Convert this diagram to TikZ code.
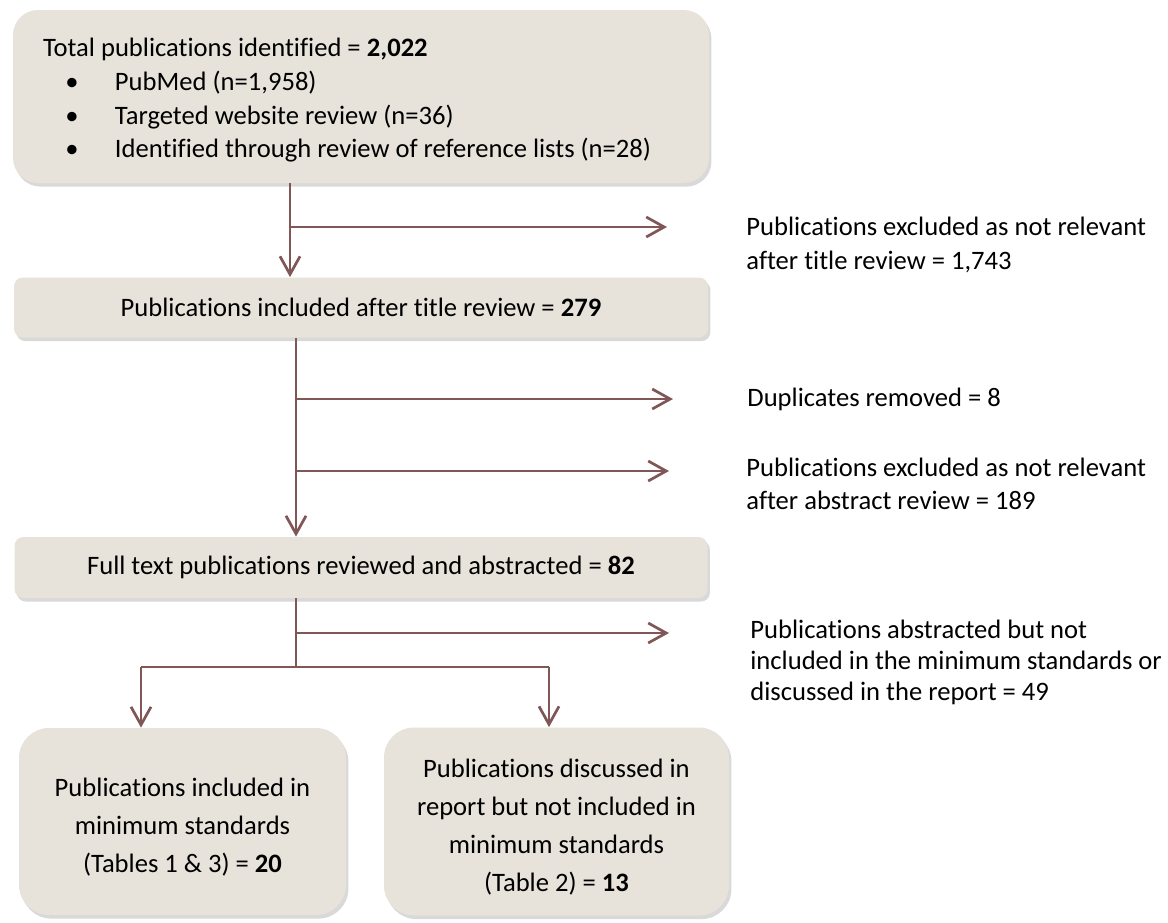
\documentclass[tikz,border=0pt]{standalone}
\usepackage{fontspec}
\setmainfont{Carlito}[Ligatures=NoCommon]
\usetikzlibrary{positioning, arrows.meta, shadows}

\definecolor{boxfill}{RGB}{231,226,218}
\definecolor{flowline}{RGB}{128,86,86}

\newcommand{\bul}[1]{\hspace*{14.5pt}\makebox[0pt]{\textbullet}\hspace*{21.5pt}#1}

\begin{document}
\begin{tikzpicture}[x=0.5pt, y=-0.5pt, node distance=2cm, on grid, font=\fontsize{13.3}{16.75}\selectfont]
        \tikzset{stage/.style={fill=boxfill, rounded corners=4.5pt, inner sep=0pt, align=center,
                drop shadow={shadow xshift=1.2pt, shadow yshift=-1.8pt, opacity=0.3}},
                flow/.style={draw=flowline, line width=1.35pt, -{Straight Barb[length=9pt,width=10pt]}},
                link/.style={draw=flowline, line width=1.35pt},
                note/.style={inner sep=0pt, align=left, anchor=west}}
        \useasboundingbox (0,0) rectangle (1168,922);

        \node[stage, rounded corners=12.5pt, minimum width=348pt, minimum height=86.5pt, text width=318pt, align=flush left,
              font=\fontsize{13.3}{16.9}\selectfont] (total) at (361,96.5)
                {\rule{0pt}{13pt}Total publications identified = \textbf{2,022}\\
                 \bul{PubMed (n=1,958)}\\
                 \bul{Targeted website review (n=36)}\\
                 \bul{Identified through review of reference lists (n=28)}};
        \node[stage, minimum width=347pt, minimum height=30pt] (title) [below=105.5pt of total]
                {Publications included after title review = \textbf{279}};
        \node[stage, minimum width=346.5pt, minimum height=30.5pt] (full) [below=130pt of title]
                {Full text publications reviewed and abstracted = \textbf{82}};
        \node[stage, rounded corners=15pt, minimum width=163.5pt, minimum height=93.5pt, font=\fontsize{13.3}{19}\selectfont] (minstd) [below left=127pt and 89.25pt of full]
                {\rule{0pt}{15pt}Publications included in\\ minimum standards\\ (Tables 1 \& 3) = \textbf{20}};
        \node[stage, rounded corners=15pt, minimum width=172.5pt, minimum height=94pt, font=\fontsize{13.3}{19}\selectfont] (report) [right=187pt of minstd]
                {\rule{0pt}{14.5pt}Publications discussed in\\ report but not included in\\ minimum standards\\ (Table 2) = \textbf{13}};

        \node[note] (excltitle) at (746,245) {Publications excluded as not relevant\\ after title review = 1,743};
        \node[note] (dupes) at (747,399) {Duplicates removed = 8};
        \node[note, font=\fontsize{13.3}{16.5}\selectfont] (exclabs) at (746,484) {Publications excluded as not relevant\\ after abstract review = 189};
        \node[note, font=\fontsize{13.3}{15.5}\selectfont] (notused) at (750,662) {Publications abstracted but not\\ included in the minimum standards or\\ discussed in the report = 49};

        % branch points and free arrow ends
        \coordinate (j1) at (290,227);  \coordinate (tip1) at (667,227);
        \coordinate (j2) at (296,399);  \coordinate (tip2) at (673,399);
        \coordinate (j3) at (296,471);  \coordinate (tip3) at (669,471);
        \coordinate (j4) at (296,633);  \coordinate (tip4) at (669,633);
        \coordinate (split) at (296,667);
        \coordinate (leftdrop) at (141,667);  \coordinate (rightdrop) at (549,667);

        \draw[flow] (total.south -| j1) -- (title.north -| j1);
        \draw[flow] (j1) -- (tip1);
        \draw[flow] (title.south -| j2) -- (full.north -| j2);
        \draw[flow] (j2) -- (tip2);
        \draw[flow] (j3) -- (tip3);
        \draw[flow] (j4) -- (tip4);
        \draw[link] (full.south -| split) -- (split);
        \draw[link] (leftdrop) -- (rightdrop);
        \draw[flow] (leftdrop) -- (minstd.north -| leftdrop);
        \draw[flow] (rightdrop) -- (report.north -| rightdrop);
    \end{tikzpicture}
\end{document}
